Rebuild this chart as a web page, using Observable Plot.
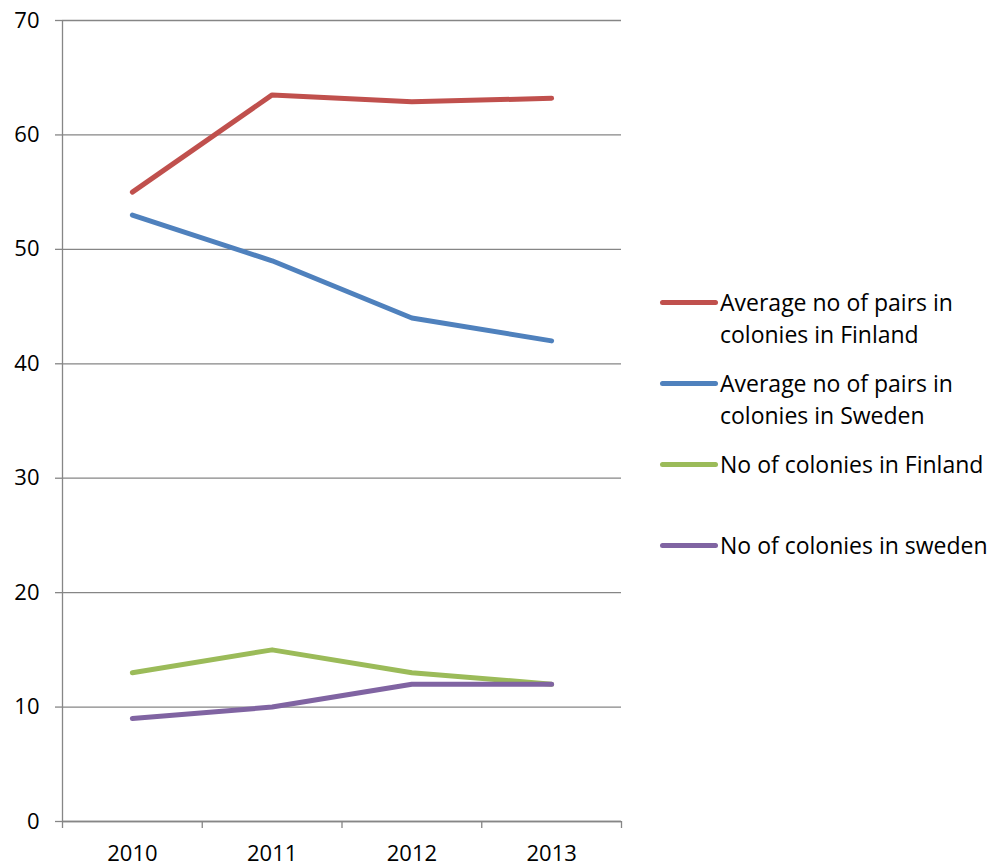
<!DOCTYPE html>
<html>
<head>
<meta charset="utf-8">
<script src="https://cdn.jsdelivr.net/npm/d3@7"></script>
<script src="https://cdn.jsdelivr.net/npm/@observablehq/plot@0.6"></script>
<style>
  html, body { margin: 0; padding: 0; background: #fff; }
  #wrap { position: relative; width: 994px; height: 868px; font-family: "Open Sans", sans-serif; }
  #chart { position: absolute; left: 0; top: 0; }
  #legend { position: absolute; left: 660px; top: 286px; }
  .item { display: flex; align-items: flex-start; height: 81px; }
  .swatch { width: 58px; height: 5px; border-radius: 2.5px; margin-top: 14px; margin-right: 2px; flex: none; }
  .label { width: 280px; font-size: 23px; line-height: 32px; color: #000; white-space: normal; }
</style>
</head>
<body>
<div id="wrap"><div id="chart"></div><div id="legend"></div></div>
<script>
const years = [2010, 2011, 2012, 2013];
const finlandPairs = [55, 63.5, 62.9, 63.2];
const swedenPairs = [53, 49, 44, 42];
const finlandColonies = [13, 15, 13, 12];
const swedenColonies = [9, 10, 12, 12];
const seriesNames = [
  "Average no of pairs in colonies in Finland",
  "Average no of pairs in colonies in Sweden",
  "No of colonies in Finland",
  "No of colonies in sweden"
];
const seriesColors = ["#C0504D", "#4F81BD", "#9BBB59", "#8064A2"];
const yTicks = [0, 10, 20, 30, 40, 50, 60, 70];
const xBoundaries = [2009.5, 2010.5, 2011.5, 2012.5, 2013.5];

const seriesValues = [finlandPairs, swedenPairs, finlandColonies, swedenColonies];
const data = seriesNames.flatMap((name, i) =>
  years.map((year, j) => ({ series: name, year, value: seriesValues[i][j] }))
);

const grey = "#868686";
const chart = Plot.plot({
  width: 994,
  height: 868,
  marginLeft: 62,
  marginRight: 373,
  marginTop: 20,
  marginBottom: 47,
  style: { fontFamily: "'Open Sans', sans-serif", fontSize: "22px", color: "#000", background: "#fff" },
  x: { domain: [2009.5, 2013.5] },
  y: { domain: [0, 70] },
  color: { domain: seriesNames, range: seriesColors },
  marks: [
    Plot.gridY(yTicks, { stroke: grey, strokeOpacity: 1, strokeWidth: 1.3 }),
    Plot.ruleX([2009.5], { y1: 0, y2: 70, stroke: grey, strokeWidth: 1.3 }),
    Plot.axisY(yTicks, { tickSize: 7, tickPadding: 16, fontSize: 22, stroke: grey, strokeWidth: 1.3, label: null, fill: "#000" }),
    Plot.axisX(xBoundaries, { tickSize: 7, tickFormat: () => "", stroke: grey, strokeWidth: 1.3, label: null }),
    Plot.axisX(years, { tickSize: 0, tickPadding: 24, fontSize: 22, tickFormat: d => String(d), label: null, fill: "#000" }),
    Plot.ruleY([0], { stroke: grey, strokeWidth: 1.3 }),
    Plot.line(data, {
      x: "year", y: "value", z: "series", stroke: "series",
      strokeWidth: 5, strokeLinecap: "round", strokeLinejoin: "round"
    })
  ]
});
document.getElementById("chart").appendChild(chart);

const legend = d3.select("#legend");
seriesNames.forEach((name, i) => {
  const item = legend.append("div").attr("class", "item");
  item.append("div").attr("class", "swatch").style("background", seriesColors[i]);
  item.append("div").attr("class", "label").text(name);
});
</script>
</body>
</html>
